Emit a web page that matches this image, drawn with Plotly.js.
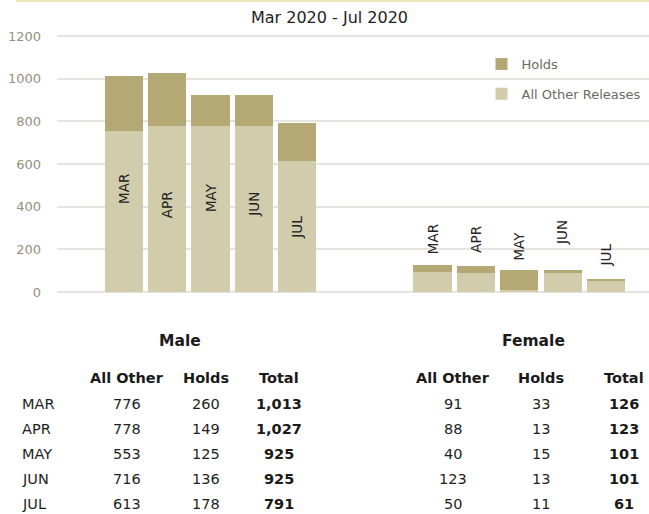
<!DOCTYPE html>
<html>
<head>
<meta charset="utf-8">
<script src="https://cdn.plot.ly/plotly-3.0.1.min.js"></script>
<style>
  html, body { margin: 0; padding: 0; background: #fff; overflow: hidden; width: 649px; height: 514px; }
  #topline { position: absolute; left: 16px; top: 0; width: 640px; height: 2px; background: #ede4b8; z-index: 2; }
  #chart { position: absolute; left: -17px; top: 0; width: 700px; height: 514px; }
</style>
</head>
<body>
<div id="chart"></div>
<div id="topline"></div>
<script>
// ---------- data ----------
const months = ["MAR", "APR", "MAY", "JUN", "JUL"];
const seriesNames = ["Holds", "All Other Releases"];

// bar values
const maleOtherBar   = [753, 778, 778, 778, 613];
const maleHoldsBar   = [260, 249, 147, 147, 178];
const femaleOtherBar = [93, 88, 10, 88, 50];
const femaleHoldsBar = [33, 35, 91, 13, 11];

// table values (as printed below the chart)
const tableMaleOther   = [776, 778, 553, 716, 613];
const tableMaleHolds   = [260, 149, 125, 136, 178];
const tableMaleTotal   = [1013, 1027, 925, 925, 791];
const tableFemaleOther = [91, 88, 40, 123, 50];
const tableFemaleHolds = [33, 13, 15, 13, 11];
const tableFemaleTotal = [126, 123, 101, 101, 61];
const tableColumns = ["All Other", "Holds", "Total"];
const groupNames = ["Male", "Female"];

const yTicks = [0, 200, 400, 600, 800, 1000, 1200];

// ---------- style ----------
const FONT = "DejaVu Sans, sans-serif";
const cOther = "#d1ccac";
const cHolds = "#b4a874";
const DIV_OFFSET = 17, ML = 74, MT = 34, PH = 258, PW = 626;
const px = xw => (xw + DIV_OFFSET - ML) / PW;   // window px -> paper x
const py = yw => (MT + PH - yw) / PH;           // window px -> paper y
const fmt = v => v.toLocaleString("en-US");

const traces = [
  {type: "scatter", x: [], y: [], xaxis: "x", yaxis: "y", showlegend: false, hoverinfo: "skip"},
  {type: "bar", name: seriesNames[1], x: months, y: maleOtherBar, xaxis: "x2", yaxis: "y",
   marker: {color: cOther}, legendgroup: "other", legendrank: 2, hoverinfo: "skip"},
  {type: "bar", name: seriesNames[0], x: months, y: maleHoldsBar, xaxis: "x2", yaxis: "y",
   marker: {color: cHolds}, legendgroup: "holds", legendrank: 1, hoverinfo: "skip"},
  {type: "bar", name: seriesNames[1], x: months, y: femaleOtherBar, xaxis: "x3", yaxis: "y",
   marker: {color: cOther}, legendgroup: "other", showlegend: false, hoverinfo: "skip"},
  {type: "bar", name: seriesNames[0], x: months, y: femaleHoldsBar, xaxis: "x3", yaxis: "y",
   marker: {color: cHolds}, legendgroup: "holds", showlegend: false, hoverinfo: "skip"}
];

const hiddenX = {showgrid: false, zeroline: false, showticklabels: false, showline: false, ticks: "", fixedrange: true};

const annotations = [];
// month labels inside male bars (centre heights) and above female bars (bottom heights)
const maleLabelY = [483, 408, 443, 413, 302];
const femaleLabelY = [166, 177, 137, 212, 113];
months.forEach((m, i) => {
  annotations.push({xref: "x2", yref: "y", x: m, y: maleLabelY[i], text: m, textangle: -90,
    showarrow: false, yanchor: "middle", xanchor: "center", font: {family: FONT, size: 13.5, color: "#222"}});
  annotations.push({xref: "x3", yref: "y", x: m, y: femaleLabelY[i], text: m, textangle: -90,
    showarrow: false, yanchor: "bottom", xanchor: "center", font: {family: FONT, size: 13.5, color: "#222"}});
});

// table
function txt(xw, yw, text, opts) {
  annotations.push(Object.assign({xref: "paper", yref: "paper", x: px(xw), y: py(yw), text: text,
    showarrow: false, xanchor: "center", yanchor: "middle",
    font: {family: FONT, size: 14.5, color: "#1e1e1e"}}, opts || {}));
}
const boldFont = s => ({family: FONT, size: s, color: "#1a1a1a", weight: "bold"});
txt(180, 341, "<b>" + groupNames[0] + "</b>", {font: boldFont(15.5)});
txt(533, 341, "<b>" + groupNames[1] + "</b>", {font: boldFont(15.5)});
const maleCols = [127, 205.5, 279];
const femaleCols = [452.5, 540.5, 624];
tableColumns.forEach((c, j) => {
  txt(maleCols[j], 378, "<b>" + c + "</b>", {font: boldFont(14.5)});
  txt(femaleCols[j], 378, "<b>" + c + "</b>", {font: boldFont(14.5)});
});
const rowY = [404, 429, 454, 479, 504];
months.forEach((m, i) => {
  txt(20, rowY[i], m, {xanchor: "left"});
  txt(maleCols[0], rowY[i], fmt(tableMaleOther[i]));
  txt(maleCols[1], rowY[i], fmt(tableMaleHolds[i]));
  txt(maleCols[2], rowY[i], "<b>" + fmt(tableMaleTotal[i]) + "</b>", {font: boldFont(14.5)});
  txt(femaleCols[0], rowY[i], fmt(tableFemaleOther[i]));
  txt(femaleCols[1], rowY[i], fmt(tableFemaleHolds[i]));
  txt(femaleCols[2], rowY[i], "<b>" + fmt(tableFemaleTotal[i]) + "</b>", {font: boldFont(14.5)});
});

const layout = {
  width: 700, height: 514,
  margin: {l: ML, r: 0, t: MT, b: 514 - MT - PH, pad: 0},
  paper_bgcolor: "#fff", plot_bgcolor: "rgba(0,0,0,0)",
  barmode: "stack", bargap: 0.12,
  hovermode: false,
  font: {family: FONT},
  title: {text: "Mar 2020 - Jul 2020", xref: "container", yref: "container",
          x: (329.5 + DIV_OFFSET) / 700, y: 1 - 17.5 / 514, xanchor: "center", yanchor: "middle",
          font: {family: FONT, size: 16, color: "#222"}},
  xaxis: Object.assign({domain: [0, 1], range: [0, 1], anchor: "y"}, hiddenX),
  xaxis2: Object.assign({domain: [px(102.35), px(318.65)], anchor: "y", type: "category"}, hiddenX),
  xaxis3: Object.assign({domain: [px(410.85), px(627.65)], anchor: "y", type: "category"}, hiddenX),
  yaxis: {range: [0, 1210], tickvals: yTicks, ticktext: yTicks.map(String),
          showgrid: true, gridcolor: "#e6e4dc", gridwidth: 2,
          zeroline: true, zerolinecolor: "#e6e4dc", zerolinewidth: 2,
          showline: false, ticks: "", ticklabelstandoff: 15, fixedrange: true,
          tickfont: {family: FONT, size: 13, color: "#958f80"}},
  showlegend: true,
  legend: {x: px(481.5), y: py(49), xanchor: "left", yanchor: "top",
           traceorder: "grouped", tracegroupgap: 10, bgcolor: "rgba(0,0,0,0)",
           font: {family: FONT, size: 13, color: "#6b6a60"}},
  annotations: annotations
};

Plotly.newPlot("chart", traces, layout, {displayModeBar: false, staticPlot: true});
</script>
</body>
</html>
